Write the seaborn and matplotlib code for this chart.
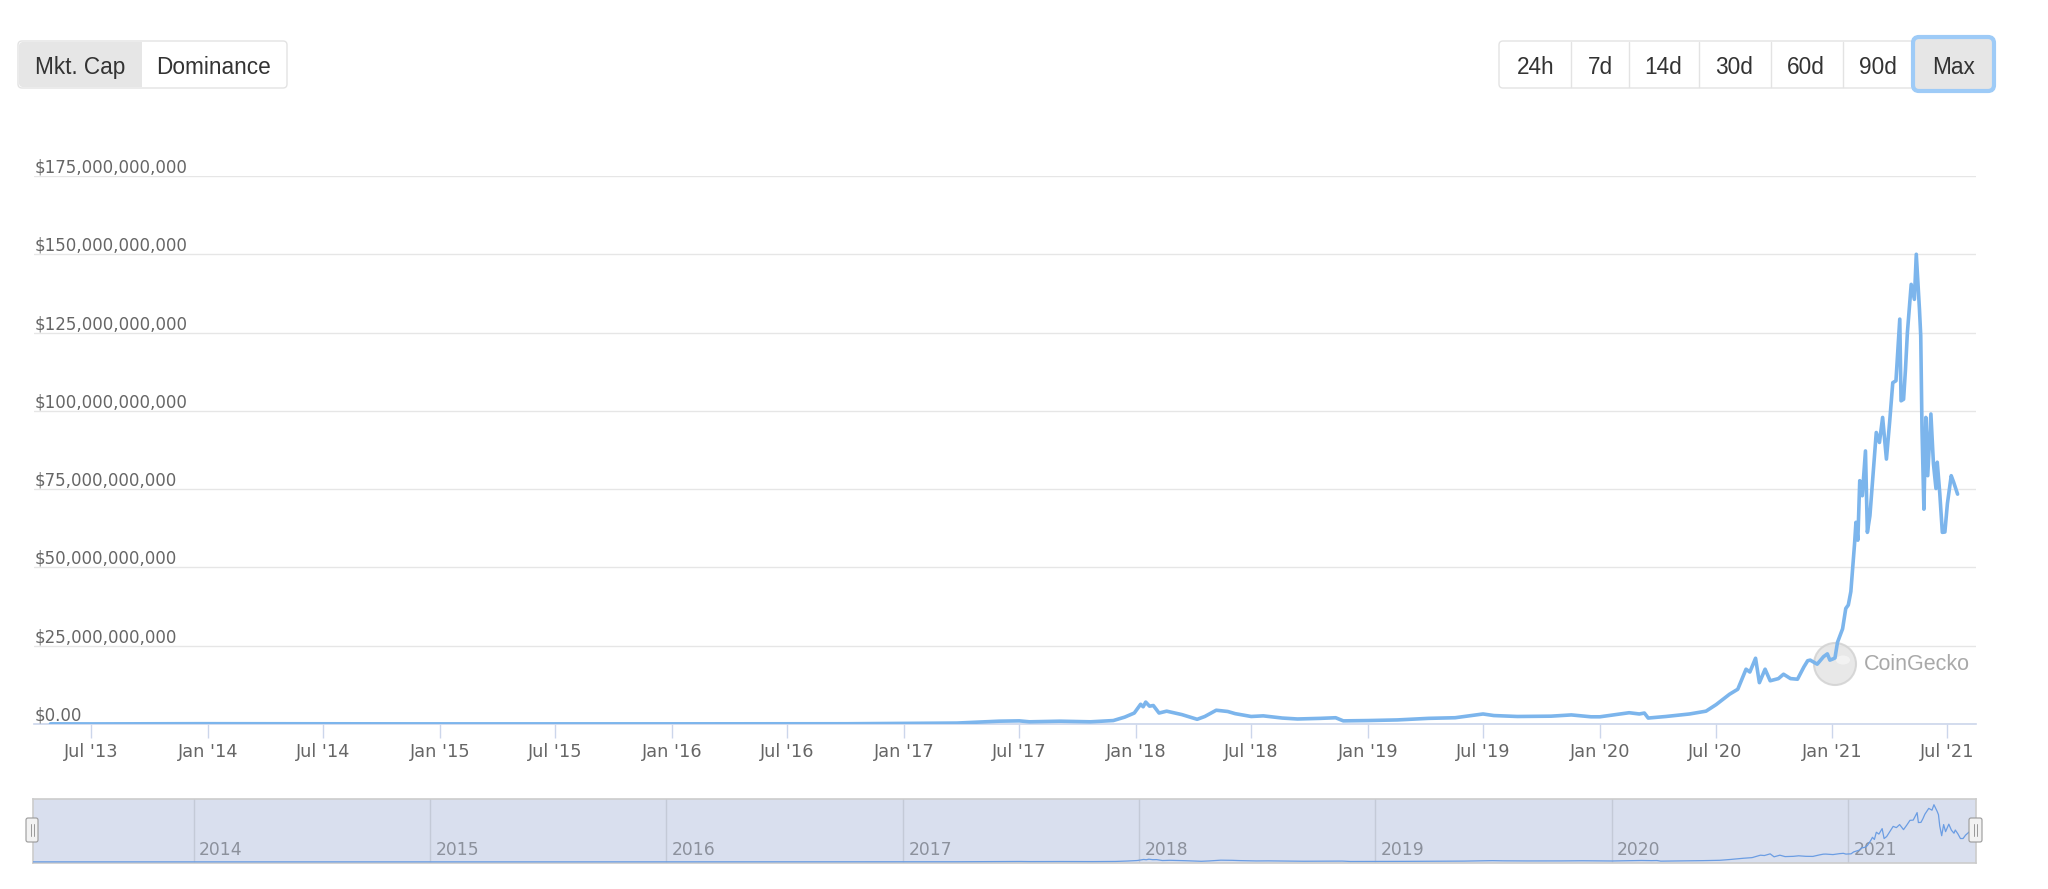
import matplotlib
matplotlib.use("Agg")
import matplotlib.pyplot as plt
import matplotlib.dates as mdates
from matplotlib.patches import FancyBboxPatch, Rectangle, Circle, Ellipse
from matplotlib.lines import Line2D
import pandas as pd
import seaborn as sns

# ---------------- data ----------------
dates = [
    "2013-04-28", "2013-07-01", "2013-12-20", "2014-06-01", "2015-01-01", "2015-07-01",
    "2016-01-01", "2016-07-01", "2016-10-01", "2017-01-01", "2017-03-25", "2017-05-06",
    "2017-05-30", "2017-07-01", "2017-07-17", "2017-09-03", "2017-10-21", "2017-11-26",
    "2017-12-14", "2017-12-29", "2018-01-08", "2018-01-12", "2018-01-16", "2018-01-22",
    "2018-01-28", "2018-02-06", "2018-02-18", "2018-03-14", "2018-04-07", "2018-04-19",
    "2018-05-07", "2018-05-25", "2018-06-06", "2018-07-01", "2018-07-20", "2018-08-19",
    "2018-09-12", "2018-10-18", "2018-11-11", "2018-11-23", "2019-01-01", "2019-02-16",
    "2019-04-06", "2019-05-18", "2019-07-01", "2019-07-18", "2019-08-24", "2019-10-16",
    "2019-11-17", "2019-12-18", "2020-01-01", "2020-02-16", "2020-03-03", "2020-03-11",
    "2020-03-17", "2020-04-14", "2020-05-21", "2020-06-16", "2020-07-02", "2020-07-23",
    "2020-08-05", "2020-08-18", "2020-08-24", "2020-09-02", "2020-09-08", "2020-09-17",
    "2020-09-25", "2020-10-08", "2020-10-16", "2020-10-27", "2020-11-07", "2020-11-17",
    "2020-11-23", "2020-11-27", "2020-12-08", "2020-12-18", "2020-12-24", "2020-12-28",
    "2021-01-02", "2021-01-05", "2021-01-09", "2021-01-17", "2021-01-22", "2021-01-26",
    "2021-01-30", "2021-02-05", "2021-02-07", "2021-02-10", "2021-02-13", "2021-02-17",
    "2021-02-22", "2021-02-25", "2021-03-01", "2021-03-05", "2021-03-11", "2021-03-16",
    "2021-03-21", "2021-03-27", "2021-04-01", "2021-04-04", "2021-04-06", "2021-04-11",
    "2021-04-17", "2021-04-19", "2021-04-23", "2021-04-26", "2021-04-29", "2021-05-05",
    "2021-05-10", "2021-05-13", "2021-05-15", "2021-05-18", "2021-05-20", "2021-05-22",
    "2021-05-25", "2021-05-28", "2021-05-31", "2021-06-05", "2021-06-09", "2021-06-13",
    "2021-06-15", "2021-06-19", "2021-06-23", "2021-06-27", "2021-07-01", "2021-07-07",
    "2021-07-11", "2021-07-17",
]
mcap_billions = [
    0.05, 0.03, 0.10, 0.06, 0.04, 0.03,
    0.05, 0.07, 0.08, 0.2, 0.3, 0.7,
    0.9, 1.0, 0.7, 0.9, 0.7, 1.1,
    2.2, 3.5, 6.3, 5.5, 7.0, 5.7,
    5.9, 3.5, 4.1, 3.0, 1.5, 2.4,
    4.4, 4.0, 3.3, 2.4, 2.6, 1.9,
    1.6, 1.8, 2.0, 1.0, 1.1, 1.3,
    1.8, 2.0, 3.2, 2.7, 2.4, 2.5,
    2.9, 2.3, 2.3, 3.6, 3.2, 3.5,
    1.9, 2.4, 3.2, 4.1, 6.2, 9.5,
    11.1, 17.5, 16.6, 21.0, 13.2, 17.5,
    13.8, 14.5, 15.9, 14.5, 14.3, 18.2,
    20.2, 20.4, 19.1, 21.5, 22.4, 20.4,
    20.8, 21.1, 26.1, 30.4, 36.9, 38.0,
    42.3, 58.0, 64.4, 58.7, 77.7, 72.9,
    87.2, 61.2, 66.5, 77.1, 93.1, 89.9,
    97.9, 84.6, 96.3, 103.9, 109.0, 109.6,
    129.3, 103.2, 103.7, 113.3, 125.0, 140.4,
    135.6, 150.0, 143.0, 132.4, 124.0, 94.0,
    68.6, 97.9, 79.3, 99.0, 83.1, 75.2,
    83.6, 73.6, 61.2, 61.3, 70.4, 79.3,
    77.1, 73.4,
]
y_ticks_billions = [0, 25, 50, 75, 100, 125, 150, 175]
x_tick_dates = [
    "2013-07-01", "2014-01-01", "2014-07-01", "2015-01-01", "2015-07-01", "2016-01-01",
    "2016-07-01", "2017-01-01", "2017-07-01", "2018-01-01", "2018-07-01", "2019-01-01",
    "2019-07-01", "2020-01-01", "2020-07-01", "2021-01-01", "2021-07-01",
]
x_tick_labels = [
    "Jul '13", "Jan '14", "Jul '14", "Jan '15", "Jul '15", "Jan '16",
    "Jul '16", "Jan '17", "Jul '17", "Jan '18", "Jul '18", "Jan '19",
    "Jul '19", "Jan '20", "Jul '20", "Jan '21", "Jul '21",
]
nav_years = [2014, 2015, 2016, 2017, 2018, 2019, 2020, 2021]
left_buttons = ["Mkt. Cap", "Dominance"]
right_buttons = ["24h", "7d", "14d", "30d", "60d", "90d", "Max"]
watermark = "CoinGecko"

# ---------------- figure ----------------
sns.set_theme(style="white")
plt.rcParams["font.family"] = ["DejaVu Sans"]

W, H = 2048, 889
fig = plt.figure(figsize=(W / 100, H / 100), dpi=100)
fig.patch.set_facecolor("white")
PX = fig.dpi_scale_trans  # inches


def fx(px):
    return px / W


def fy(py):
    return 1 - py / H


def P(x, y):
    return (x / 100.0, (H - y) / 100.0)


df = pd.DataFrame({"date": pd.to_datetime(dates), "mcap": mcap_billions})

# ---------------- main chart ----------------
L, R, T, B = 34, 1976, 176, 724
ax = fig.add_axes([fx(L), fy(B), fx(R) - fx(L), fy(T) - fy(B)])
ax.set_facecolor("none")
sns.lineplot(data=df, x="date", y="mcap", ax=ax, color="#7cb5ec", lw=2.6, zorder=3)
ax.set_xlim(pd.Timestamp("2013-04-02"), pd.Timestamp("2021-08-15"))
ax.set_ylim(0, 175)
ax.set_xlabel("")
ax.set_ylabel("")
for name, sp in ax.spines.items():
    sp.set_visible(False)
ax.spines["bottom"].set_visible(True)
ax.spines["bottom"].set_color("#ccd6eb")
ax.spines["bottom"].set_linewidth(1.2)
ax.spines["bottom"].set_zorder(2)

ax.set_yticks(y_ticks_billions)
ax.yaxis.grid(True, color="#e6e6e6", lw=1.0, zorder=0)
ax.tick_params(axis="y", length=0, labelleft=False)
for v in y_ticks_billions:
    lab = "$0.00" if v == 0 else "${:,.0f}".format(v * 1e9)
    ax.annotate(lab, xy=(0, v), xycoords=ax.get_yaxis_transform(),
                xytext=(0.5, 2.5), textcoords="offset points",
                ha="left", va="baseline", fontsize=12, color="#666666", zorder=4)

ax.set_xticks(pd.to_datetime(x_tick_dates))
ax.set_xticklabels(x_tick_labels)
ax.tick_params(axis="x", length=10, width=1.0, color="#ccd6eb", direction="out",
               labelsize=12.8, labelcolor="#666666", pad=3.5, bottom=True)

# watermark (behind the line)
ax.add_patch(Circle(P(1835, 664), 0.21, transform=PX, facecolor="#e4e4e4",
                    edgecolor="#d2d2d2", lw=1.5, alpha=0.85, zorder=1))
ax.add_patch(Ellipse(P(1843, 660), 0.14, 0.09, transform=PX, facecolor="#f4f4f4",
                     edgecolor="none", alpha=0.9, zorder=1))
ax.text(*P(1864, 664), watermark, transform=PX, ha="left", va="center",
        fontsize=15.5, color="#a9a9a9", family=["Liberation Sans", "DejaVu Sans"], zorder=1)

# ---------------- navigator ----------------
NL, NR, NT, NB = 33, 1976, 799, 863
nav = fig.add_axes([fx(NL), fy(NB), fx(NR) - fx(NL), fy(NT) - fy(NB)])
nav.set_facecolor("#d9dfee")
sns.lineplot(data=df, x="date", y="mcap", ax=nav, color="#6b9de3", lw=0.9, zorder=3)
nav.set_xlim(df["date"].min(), df["date"].max())
nav.set_ylim(-3, 165)
nav.set_xlabel("")
nav.set_ylabel("")
nav.set_xticks([])
nav.set_yticks([])
for sp in nav.spines.values():
    sp.set_color("#cccccc")
    sp.set_linewidth(1.2)
for yr in nav_years:
    d = mdates.date2num(pd.Timestamp(f"{yr}-01-01"))
    nav.axvline(d, color="#c4cad7", lw=1.0, zorder=1)
    nav.annotate(str(yr), xy=(d, 0), xycoords=nav.get_xaxis_transform(),
                 xytext=(4, 3), textcoords="offset points", ha="left", va="bottom",
                 fontsize=12.3, color="#8c919c", zorder=2)

# handles
for (x0, x1) in [(26, 38), (1969, 1982)]:
    fig.add_artist(FancyBboxPatch(P(x0, 842), (x1 - x0) / 100, 0.24,
                                  boxstyle="round,pad=0,rounding_size=0.02",
                                  transform=PX, facecolor="#f2f2f2", edgecolor="#999999",
                                  lw=0.8, zorder=5))
    xc = (x0 + x1) / 2
    for dx in (-1.5, 1.5):
        fig.add_artist(Line2D([P(xc + dx, 0)[0]] * 2, [P(0, 824)[1], P(0, 836)[1]],
                              transform=PX, color="#999999", lw=0.7, zorder=6))

# ---------------- buttons ----------------
BTN_FONT = ["Liberation Sans", "DejaVu Sans"]


def box(x0, y0, x1, y1, fc, ec, lw, r=0.04, z=5):
    fig.add_artist(FancyBboxPatch(P(x0, y1), (x1 - x0) / 100, (y1 - y0) / 100,
                                  boxstyle=f"round,pad=0,rounding_size={r}",
                                  transform=PX, facecolor=fc, edgecolor=ec, lw=lw, zorder=z))


BY0, BY1, TY = 41, 88, 67.5
# left group
box(18, BY0, 287, BY1, "white", "#e3e3e3", 1.0)
box(19, BY0 + 1, 142, BY1 - 1, "#e6e6e6", "none", 0, z=5.1)
fig.add_artist(Rectangle(P(130, BY1 - 1), 0.12, (BY1 - BY0 - 2) / 100, transform=PX,
                         facecolor="#e6e6e6", edgecolor="none", zorder=5.2))
left_centers = [80, 214]
for lab, xc in zip(left_buttons, left_centers):
    fig.text(*P(xc, TY), lab, transform=PX, ha="center", va="center", fontsize=16.3,
             color="#333333", family=BTN_FONT, zorder=7)

# right group
box(1499, BY0, 1950, BY1, "white", "#e3e3e3", 1.0)
for xd in [1571, 1629, 1699, 1771, 1843]:
    fig.add_artist(Line2D([P(xd, 0)[0]] * 2, [P(0, BY0 + 1)[1], P(0, BY1 - 1)[1]],
                          transform=PX, color="#e3e3e3", lw=1.0, zorder=6))
box(1913, 37, 1994, 91, "#e6e6e6", "#9ecbf7", 3.0, r=0.06, z=6.5)
right_centers = [1536, 1600, 1663, 1734, 1806, 1878, 1954]
for lab, xc in zip(right_buttons, right_centers):
    fig.text(*P(xc, TY), lab, transform=PX, ha="center", va="center", fontsize=16.3,
             color="#333333", family=BTN_FONT, zorder=7)

fig.savefig("out.png", dpi=100, facecolor="white")
